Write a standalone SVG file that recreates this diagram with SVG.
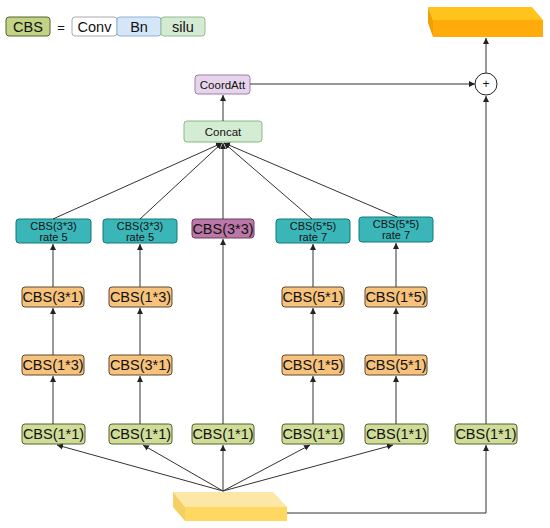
<svg xmlns="http://www.w3.org/2000/svg" width="550" height="528" viewBox="0 0 550 528">
<defs>
<marker id="ah" markerWidth="8" markerHeight="8" refX="6" refY="3.5" orient="auto" markerUnits="userSpaceOnUse">
<path d="M0,0.5 L6,3.5 L0,6.5 Z" fill="#222"/>
</marker>
</defs>
<style>
text{font-family:"Liberation Sans",Arial,sans-serif;text-anchor:middle;dominant-baseline:central;fill:#111}
.c{fill:none;stroke:#333;stroke-width:1;marker-end:url(#ah)}
.g rect{fill:#d0dd98;stroke:#56622a;stroke-width:1}
.o rect{fill:#f7c27c;stroke:#5a4a2e;stroke-width:1}
.t rect{fill:#3bb6b8;stroke:#10787c;stroke-width:1}
.t text{font-size:11px}
.n14{font-size:14.5px}
</style>

<g id="legend">
<rect x="6" y="17" width="44" height="19" rx="3" fill="#c3d385" stroke="#56622a"/>
<text x="28" y="27" class="n14">CBS</text>
<text x="61" y="27" font-size="13">=</text>
<rect x="72" y="17" width="45" height="19" rx="3" fill="#fff" stroke="#aaa"/>
<text x="94.5" y="27" class="n14">Conv</text>
<rect x="117" y="17" width="44" height="19" rx="3" fill="#d4e6f7" stroke="#8fb3d6"/>
<text x="139" y="27" class="n14">Bn</text>
<rect x="161" y="17" width="44" height="19" rx="3" fill="#d5ead3" stroke="#8fc08a"/>
<text x="183" y="27" class="n14">silu</text>
</g>

<g id="output">
<polygon points="433,20 543,20 543,37 433,37" fill="#ffab0c"/>
<polygon points="428,7 532,7 543,20 433,20" fill="#ffc31c"/>
<polygon points="428,7 433,20 433,37 428,23" fill="#f0a000"/>
</g>

<g id="plus">
<circle cx="486" cy="84" r="11" fill="#fff" stroke="#222"/>
<text x="486" y="84" font-size="12">+</text>
</g>

<g id="coordatt">
<rect x="195" y="75" width="55" height="19" rx="3" fill="#e6d5ea" stroke="#a37bb0"/>
<text x="222.5" y="84.5" font-size="11.5">CoordAtt</text>
</g>

<g id="concat">
<rect x="184" y="121" width="78" height="21" rx="3" fill="#d5ecd4" stroke="#86bb82"/>
<text x="223" y="131.5" font-size="11.5">Concat</text>
</g>

<g id="t1" class="t"><rect x="16" y="219" width="75" height="24" rx="3"/><text x="53.5" y="225.5">CBS(3*3)</text><text x="53.5" y="237">rate 5</text></g>
<g id="t2" class="t"><rect x="103" y="219" width="74" height="24" rx="3"/><text x="140" y="225.5">CBS(3*3)</text><text x="140" y="237">rate 5</text></g>
<g id="p3"><rect x="192" y="219" width="62" height="19" rx="3" fill="#bb77a8" stroke="#6e3c60"/><text x="223" y="228.5" class="n14">CBS(3*3)</text></g>
<g id="t4" class="t"><rect x="276" y="219" width="74" height="24" rx="3"/><text x="313" y="225.5">CBS(5*5)</text><text x="313" y="237">rate 7</text></g>
<g id="t5" class="t"><rect x="359" y="217" width="74" height="25" rx="3"/><text x="396" y="223.5">CBS(5*5)</text><text x="396" y="235">rate 7</text></g>

<g id="o1a" class="o"><rect x="22" y="287" width="62" height="20" rx="3"/><text x="53" y="297" class="n14">CBS(3*1)</text></g>
<g id="o2a" class="o"><rect x="109" y="287" width="63" height="20" rx="3"/><text x="140.5" y="297" class="n14">CBS(1*3)</text></g>
<g id="o4a" class="o"><rect x="282" y="287" width="62" height="20" rx="3"/><text x="313" y="297" class="n14">CBS(5*1)</text></g>
<g id="o5a" class="o"><rect x="365" y="287" width="62" height="20" rx="3"/><text x="396" y="297" class="n14">CBS(1*5)</text></g>

<g id="o1b" class="o"><rect x="22" y="355" width="62" height="20" rx="3"/><text x="53" y="365" class="n14">CBS(1*3)</text></g>
<g id="o2b" class="o"><rect x="109" y="355" width="63" height="20" rx="3"/><text x="140.5" y="365" class="n14">CBS(3*1)</text></g>
<g id="o4b" class="o"><rect x="282" y="355" width="62" height="20" rx="3"/><text x="313" y="365" class="n14">CBS(1*5)</text></g>
<g id="o5b" class="o"><rect x="365" y="355" width="62" height="20" rx="3"/><text x="396" y="365" class="n14">CBS(5*1)</text></g>

<g id="g1" class="g"><rect x="22" y="424" width="63" height="20" rx="3"/><text x="53.5" y="434" class="n14">CBS(1*1)</text></g>
<g id="g2" class="g"><rect x="109" y="424" width="63" height="20" rx="3"/><text x="140.5" y="434" class="n14">CBS(1*1)</text></g>
<g id="g3" class="g"><rect x="192" y="424" width="62" height="20" rx="3"/><text x="223" y="434" class="n14">CBS(1*1)</text></g>
<g id="g4" class="g"><rect x="282" y="424" width="62" height="20" rx="3"/><text x="313" y="434" class="n14">CBS(1*1)</text></g>
<g id="g5" class="g"><rect x="365" y="424" width="63" height="20" rx="3"/><text x="396.5" y="434" class="n14">CBS(1*1)</text></g>
<g id="g6" class="g"><rect x="455" y="424" width="62" height="20" rx="3"/><text x="486" y="434" class="n14">CBS(1*1)</text></g>

<g id="input">
<polygon points="185,507 287,507 287,521 185,521" fill="#ffd862"/>
<polygon points="173,492 273,492 287,507 185,507" fill="#fde7a6"/>
<polygon points="173,492 185,507 185,521 173,507" fill="#f6cf62"/>
</g>

<g id="connectors">
<path class="c" d="M486,73 L486,38"/>
<path class="c" d="M250,84 L475,84"/>
<path class="c" d="M223,121 L223,95"/>
<path class="c" d="M53,219 L222,143"/>
<path class="c" d="M140,219 L222,143"/>
<path class="c" d="M223,219 L223,143"/>
<path class="c" d="M312,219 L224,143"/>
<path class="c" d="M397,217 L224,143"/>
<path class="c" d="M53,287 L53,244"/>
<path class="c" d="M140,287 L140,244"/>
<path class="c" d="M313,287 L313,244"/>
<path class="c" d="M396,287 L396,243"/>
<path class="c" d="M53,355 L53,308"/>
<path class="c" d="M140,355 L140,308"/>
<path class="c" d="M313,355 L313,308"/>
<path class="c" d="M396,355 L396,308"/>
<path class="c" d="M53,424 L53,376"/>
<path class="c" d="M140,424 L140,376"/>
<path class="c" d="M223,424 L223,239"/>
<path class="c" d="M313,424 L313,376"/>
<path class="c" d="M396,424 L396,376"/>
<path class="c" d="M223,491 L57,445"/>
<path class="c" d="M223,491 L143,445"/>
<path class="c" d="M223,491 L223,445"/>
<path class="c" d="M223,491 L310,445"/>
<path class="c" d="M223,491 L393,445"/>
<path class="c" d="M287,513 L486,513 L486,445"/>
<path class="c" d="M486,424 L486,96"/>
</g>
</svg>
